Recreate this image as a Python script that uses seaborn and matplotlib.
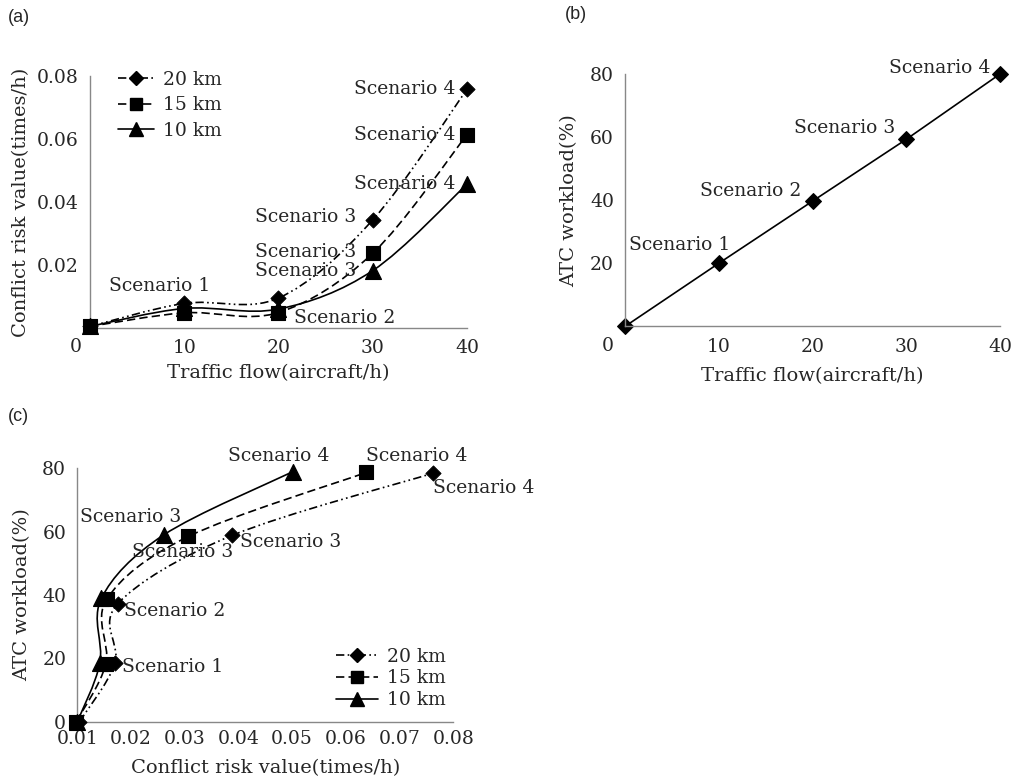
import numpy as np
import pandas as pd
import matplotlib
matplotlib.use("Agg")
import matplotlib.pyplot as plt
from matplotlib.path import Path
from matplotlib.patches import PathPatch
from matplotlib.lines import Line2D
import seaborn as sns

# ── data ──────────────────────────────────────────────────
flow = [0, 10, 20, 30, 40]
risk_20km = [0.0005, 0.0078, 0.0095, 0.0343, 0.0757]
risk_15km = [0.0005, 0.0048, 0.0049, 0.0237, 0.0613]
risk_10km = [0.0005, 0.0062, 0.0060, 0.0182, 0.0456]

workload_b = [0, 20, 39.7, 59.3, 80]

# panel (c): conflict risk vs ATC workload
c_risk_20km = [0.0104, 0.0170, 0.0175, 0.0388, 0.0763]
c_work_20km = [0, 18.4, 37.2, 58.8, 78.5]
c_risk_15km = [0.0098, 0.0153, 0.0155, 0.0307, 0.0638]
c_work_15km = [0, 18.2, 38.7, 58.5, 78.7]
c_risk_10km = [0.0100, 0.0142, 0.0145, 0.0261, 0.0502]
c_work_10km = [0, 18.5, 39.0, 59.0, 79.0]

series = ['20 km', '15 km', '10 km']
markers = {'20 km': 'D', '15 km': 's', '10 km': '^'}
msize = {'20 km': 60, '15 km': 100, '10 km': 130}
lstyle = {'20 km': (0, (5, 2, 1, 2, 1, 2)), '15 km': (0, (5, 2.5)), '10 km': '-'}

FS = 13.5      # annotation / tick text
FS_LAB = 14    # axis titles

sns.set_style('white')
plt.rcParams['font.family'] = ['DejaVu Serif']
plt.rcParams['font.size'] = FS


def smooth_curve(ax, xs, ys, ls):
    # Bezier curve through the points (Excel-like smoothed line)
    pts = np.column_stack([xs, ys]).astype(float)
    n = len(pts)
    verts = [pts[0]]
    codes = [Path.MOVETO]
    for i in range(n - 1):
        p0 = pts[max(i - 1, 0)]
        p1 = pts[i]
        p2 = pts[i + 1]
        p3 = pts[min(i + 2, n - 1)]
        verts += [p1 + (p2 - p0) / 6, p2 - (p3 - p1) / 6, p2]
        codes += [Path.CURVE4] * 3
    patch = PathPatch(Path(verts, codes), fill=False, lw=1.2,
                      linestyle=ls, edgecolor='black', clip_on=False)
    ax.add_patch(patch)


def style_axes(ax):
    for s in ['top', 'right']:
        ax.spines[s].set_visible(False)
    for s in ['left', 'bottom']:
        ax.spines[s].set_color('#888888')
        ax.spines[s].set_linewidth(1.0)
    ax.tick_params(axis='both', length=4, width=1, color='#888888',
                   labelsize=FS, pad=4)


def legend_handles():
    return [Line2D([0], [0], color='black', lw=1.2, linestyle=lstyle[s],
                   marker=markers[s], markersize=np.sqrt(msize[s]) * 0.9, label=s)
            for s in series]


fig = plt.figure(figsize=(10.12, 7.82), dpi=100)

# ── (a) traffic flow vs conflict risk ─────────────────────
ax_a = fig.add_axes([0.0889, 0.5806, 0.3725, 0.3223])
df_a = pd.DataFrame({'flow': flow * 3,
                     'risk': risk_20km + risk_15km + risk_10km,
                     'series': np.repeat(series, len(flow))})
for s, ys in zip(series, [risk_20km, risk_15km, risk_10km]):
    smooth_curve(ax_a, flow, ys, lstyle[s])
for s in series[::-1]:
    sub = df_a[df_a['series'] == s]
    sns.scatterplot(data=sub, x='flow', y='risk', marker=markers[s], s=msize[s],
                    color='black', edgecolor='black', ax=ax_a, clip_on=False,
                    zorder=5, legend=False)
ax_a.set_xlim(0, 40)
ax_a.set_ylim(0, 0.08)
ax_a.set_xticks([10, 20, 30, 40])
ax_a.set_yticks([0.02, 0.04, 0.06, 0.08])
ax_a.set_yticklabels(['0.02', '0.04', '0.06', '0.08'])
style_axes(ax_a)
ax_a.text(-0.037, -0.04, '0', transform=ax_a.transAxes, ha='center', va='top', fontsize=FS)
ax_a.set_xlabel('Traffic flow(aircraft/h)', fontsize=FS_LAB)
ax_a.set_ylabel('Conflict risk value(times/h)', fontsize=FS_LAB)
ax_a.xaxis.set_label_coords(0.5, -0.145)
ax_a.yaxis.set_label_coords(-0.158, 0.5)
ax_a.legend(handles=legend_handles(), loc='upper left', bbox_to_anchor=(0.055, 1.05),
            frameon=False, fontsize=FS, handlelength=1.9, labelspacing=0.4,
            handletextpad=0.5, borderaxespad=0)

ann_a = [
    (40, risk_20km[4], 'Scenario 4', (-12, 0), 'right', 'center'),
    (40, risk_15km[4], 'Scenario 4', (-12, 0), 'right', 'center'),
    (40, risk_10km[4], 'Scenario 4', (-12, 0), 'right', 'center'),
    (30, risk_20km[3], 'Scenario 3', (-16, 3), 'right', 'center'),
    (30, risk_15km[3], 'Scenario 3', (-16, 1), 'right', 'center'),
    (30, risk_10km[3], 'Scenario 3', (-16, 0), 'right', 'center'),
    (10, risk_20km[1], 'Scenario 1', (-25, 17), 'center', 'center'),
    (20, risk_15km[2], 'Scenario 2', (16, -5), 'left', 'center'),
]
for x, y, t, off, ha, va in ann_a:
    ax_a.annotate(t, (x, y), xytext=off, textcoords='offset pixels', ha=ha, va=va,
                  fontsize=FS)

# ── (b) traffic flow vs ATC workload ──────────────────────
ax_b = fig.add_axes([0.6176, 0.5826, 0.3706, 0.3228])
df_b = pd.DataFrame({'flow': flow, 'workload': workload_b})
sns.lineplot(data=df_b, x='flow', y='workload', color='black', lw=1.2,
             marker='D', markersize=8, markeredgecolor='black', ax=ax_b, clip_on=False)
ax_b.set_xlim(0, 40)
ax_b.set_ylim(0, 80)
ax_b.set_xticks([10, 20, 30, 40])
ax_b.set_yticks([20, 40, 60, 80])
style_axes(ax_b)
ax_b.text(-0.045, -0.04, '0', transform=ax_b.transAxes, ha='center', va='top', fontsize=FS)
ax_b.set_xlabel('Traffic flow(aircraft/h)', fontsize=FS_LAB)
ax_b.set_ylabel('ATC workload(%)', fontsize=FS_LAB)
ax_b.xaxis.set_label_coords(0.5, -0.16)
ax_b.yaxis.set_label_coords(-0.125, 0.5)
ann_b = [
    (40, 80, 'Scenario 4', (-10, 6), 'right'),
    (30, 59.3, 'Scenario 3', (-11, 11), 'right'),
    (20, 39.7, 'Scenario 2', (-11, 10), 'right'),
    (10, 20, 'Scenario 1', (-39, 18), 'center'),
]
for x, y, t, off, ha in ann_b:
    ax_b.annotate(t, (x, y), xytext=off, textcoords='offset pixels', ha=ha,
                  va='center', fontsize=FS)

# ── (c) conflict risk vs ATC workload ─────────────────────
ax_c = fig.add_axes([0.0764, 0.0771, 0.3715, 0.324])
c_data = {'20 km': (c_risk_20km, c_work_20km),
          '15 km': (c_risk_15km, c_work_15km),
          '10 km': (c_risk_10km, c_work_10km)}
for s in series:
    smooth_curve(ax_c, c_data[s][0], c_data[s][1], lstyle[s])
for s in series[::-1]:
    sub = pd.DataFrame({'risk': c_data[s][0], 'workload': c_data[s][1]})
    sns.scatterplot(data=sub, x='risk', y='workload', marker=markers[s], s=msize[s],
                    color='black', edgecolor='black', ax=ax_c, clip_on=False,
                    zorder=5, legend=False)
ax_c.set_xlim(0.01, 0.08)
ax_c.set_ylim(0, 80)
ax_c.set_xticks([0.01, 0.02, 0.03, 0.04, 0.05, 0.06, 0.07, 0.08])
ax_c.set_xticklabels(['0.01', '0.02', '0.03', '0.04', '0.05', '0.06', '0.07', '0.08'])
ax_c.set_yticks([0, 20, 40, 60, 80])
style_axes(ax_c)
ax_c.tick_params(axis='x', direction='in', pad=6)
ax_c.set_xlabel('Conflict risk value(times/h)', fontsize=FS_LAB)
ax_c.set_ylabel('ATC workload(%)', fontsize=FS_LAB)
ax_c.xaxis.set_label_coords(0.5, -0.147)
ax_c.yaxis.set_label_coords(-0.123, 0.5)
ax_c.legend(handles=legend_handles(), loc='lower right', bbox_to_anchor=(1.0, 0.02),
            frameon=False, fontsize=FS, handlelength=2.2, labelspacing=0.2,
            handletextpad=0.5, borderaxespad=0)
ann_c = [
    (c_risk_10km[4], c_work_10km[4], 'Scenario 4', (-15, 16), 'center'),
    (c_risk_15km[4], c_work_15km[4], 'Scenario 4', (50, 16), 'center'),
    (c_risk_20km[4], c_work_20km[4], 'Scenario 4', (0, -15), 'left'),
    (c_risk_10km[3], c_work_10km[3], 'Scenario 3', (-33, 18), 'center'),
    (c_risk_15km[3], c_work_15km[3], 'Scenario 3', (-6, -16), 'center'),
    (c_risk_20km[3], c_work_20km[3], 'Scenario 3', (8, -7), 'left'),
    (c_risk_20km[2], c_work_20km[2], 'Scenario 2', (6, -7), 'left'),
    (c_risk_20km[1], c_work_20km[1], 'Scenario 1', (7, -4), 'left'),
]
for x, y, t, off, ha in ann_c:
    ax_c.annotate(t, (x, y), xytext=off, textcoords='offset pixels', ha=ha,
                  va='center', fontsize=FS, annotation_clip=False)

# panel letters
for lbl, x, y in [('(a)', 0.008, 0.977), ('(b)', 0.558, 0.981), ('(c)', 0.008, 0.468)]:
    fig.text(x, y, lbl, family='Liberation Sans', fontsize=13, va='center')

fig.savefig('out.png', dpi=100)
